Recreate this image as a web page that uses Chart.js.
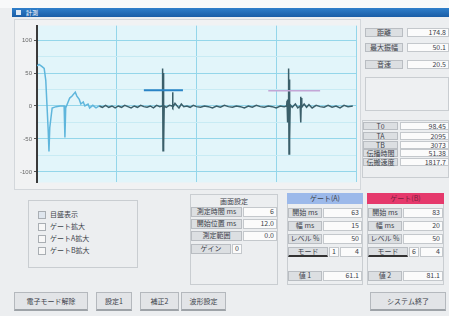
<!DOCTYPE html>
<html>
<head>
<meta charset="utf-8">
<script src="https://cdn.jsdelivr.net/npm/chart.js"></script>
<style>
body{margin:0;width:449px;height:316px;background:#eceef0;position:relative;overflow:hidden;font-family:"Noto Sans CJK JP",sans-serif;font-size:7px;color:#3c424a;}
.a{position:absolute;box-sizing:border-box;white-space:nowrap;}
.lbl{background:#dcdfe2;border:1px solid #b9bdc2;text-align:center;line-height:7px;}
.val{background:#fbfbfb;border:1px solid #c4c8cc;text-align:right;padding-right:2px;line-height:7px;}
.grp{border:1px solid #c9cdd1;}
.btn{background:#e2e4e7;border:1px solid #b4b8bd;border-bottom:2px solid #9ea3a8;text-align:center;line-height:16px;}
.cb{width:6px;height:6px;border:1px solid #a9aeb3;background:#f7f7f7;display:inline-block;vertical-align:middle;margin-right:4px;}
</style>
</head>
<body>
<div class="a" style="left:0;top:0;width:449px;height:8px;background:#f8f9fa"></div>
<div class="a" style="left:12px;top:8px;width:437px;height:9px;background:linear-gradient(#2f7fcb,#1a5da6);"></div>
<div class="a" style="left:16px;top:10px;width:5px;height:5px;background:#dfe9f5"></div>
<div class="a" style="left:26px;top:8px;color:#fff;font-size:6px;line-height:9px">計測</div>

<div class="a" style="left:14px;top:19px;width:347px;height:171px;background:#f1f2f3;border:1px solid #d3d7db"></div>
<canvas id="wave" class="a" width="344" height="168" style="left:14px;top:20px;width:344px;height:168px"></canvas>

<!-- right info panel -->
<div class="a lbl" style="left:365px;top:28px;width:38px;height:9px">距離</div>
<div class="a val" style="left:407px;top:28px;width:42px;height:9px">174.8</div>
<div class="a lbl" style="left:365px;top:43px;width:38px;height:9px">最大振幅</div>
<div class="a val" style="left:407px;top:43px;width:42px;height:9px">50.1</div>
<div class="a lbl" style="left:365px;top:60px;width:38px;height:9px">音速</div>
<div class="a val" style="left:407px;top:60px;width:42px;height:9px">20.5</div>
<div class="a grp" style="left:365px;top:77px;width:84px;height:34px;background:#eef0f2"></div>
<div class="a grp" style="left:362px;top:120px;width:87px;height:58px"></div>
<div class="a lbl" style="left:363px;top:122px;width:35px;height:8px">T0</div>
<div class="a val" style="left:400px;top:122px;width:49px;height:8px">98.45</div>
<div class="a lbl" style="left:363px;top:132px;width:35px;height:8px">TA</div>
<div class="a val" style="left:400px;top:132px;width:49px;height:8px">2095</div>
<div class="a lbl" style="left:363px;top:141px;width:35px;height:8px">TB</div>
<div class="a val" style="left:400px;top:141px;width:49px;height:8px">3073</div>
<div class="a lbl" style="left:363px;top:149px;width:35px;height:8px">伝播時間</div>
<div class="a val" style="left:400px;top:149px;width:49px;height:8px">51.38</div>
<div class="a lbl" style="left:363px;top:158px;width:35px;height:8px">伝搬速度</div>
<div class="a val" style="left:400px;top:158px;width:49px;height:8px">1817.7</div>

<!-- check box group -->
<div class="a grp" style="left:28px;top:200px;width:110px;height:68px"></div>
<div class="a" style="left:38px;top:209px"><span class="cb" style="background:#dfe6ee"></span>目盛表示</div>
<div class="a" style="left:38px;top:221px"><span class="cb"></span>ゲート拡大</div>
<div class="a" style="left:38px;top:233px"><span class="cb"></span>ゲートA拡大</div>
<div class="a" style="left:38px;top:245px"><span class="cb"></span>ゲートB拡大</div>

<!-- screen settings -->
<div class="a grp" style="left:190px;top:194px;width:88px;height:91px"></div>
<div class="a" style="left:190px;top:196px;width:88px;text-align:center">画面設定</div>
<div class="a lbl" style="left:191px;top:207px;width:51px;height:10px">測定時間 ms</div>
<div class="a val" style="left:243px;top:207px;width:34px;height:10px">6</div>
<div class="a lbl" style="left:191px;top:219px;width:51px;height:10px">開始位置 ms</div>
<div class="a val" style="left:243px;top:219px;width:34px;height:10px">12.0</div>
<div class="a lbl" style="left:191px;top:231px;width:51px;height:10px">測定範囲</div>
<div class="a val" style="left:243px;top:231px;width:34px;height:10px">0.0</div>
<div class="a lbl" style="left:191px;top:244px;width:40px;height:10px">ゲイン</div>
<div class="a val" style="left:232px;top:244px;width:10px;height:10px">0</div>

<!-- gate A -->
<div class="a grp" style="left:287px;top:193px;width:76px;height:92px"></div>
<div class="a" style="left:287px;top:193px;width:76px;height:11px;background:#9cb9ea;text-align:center;line-height:11px">ゲート(A)</div>
<div class="a lbl" style="left:288px;top:208px;width:34px;height:10px">開始 ms</div>
<div class="a val" style="left:323px;top:208px;width:39px;height:10px">63</div>
<div class="a lbl" style="left:288px;top:221px;width:34px;height:10px">幅 ms</div>
<div class="a val" style="left:323px;top:221px;width:39px;height:10px">15</div>
<div class="a lbl" style="left:288px;top:234px;width:34px;height:10px">レベル %</div>
<div class="a val" style="left:323px;top:234px;width:39px;height:10px">50</div>
<div class="a lbl" style="left:288px;top:247px;width:40px;height:10px;border-bottom:2px solid #333">モード</div>
<div class="a val" style="left:329px;top:247px;width:10px;height:10px">1</div>
<div class="a val" style="left:340px;top:247px;width:22px;height:10px">4</div>
<div class="a lbl" style="left:288px;top:271px;width:34px;height:10px">値 1</div>
<div class="a val" style="left:323px;top:271px;width:39px;height:10px">61.1</div>

<!-- gate B -->
<div class="a grp" style="left:367px;top:193px;width:77px;height:92px"></div>
<div class="a" style="left:367px;top:193px;width:77px;height:11px;background:#e5396c;text-align:center;line-height:11px;color:#7a2040">ゲート(B)</div>
<div class="a lbl" style="left:368px;top:208px;width:34px;height:10px">開始 ms</div>
<div class="a val" style="left:403px;top:208px;width:40px;height:10px">83</div>
<div class="a lbl" style="left:368px;top:221px;width:34px;height:10px">幅 ms</div>
<div class="a val" style="left:403px;top:221px;width:40px;height:10px">20</div>
<div class="a lbl" style="left:368px;top:234px;width:34px;height:10px">レベル %</div>
<div class="a val" style="left:403px;top:234px;width:40px;height:10px">50</div>
<div class="a lbl" style="left:368px;top:247px;width:40px;height:10px;border-bottom:2px solid #333">モード</div>
<div class="a val" style="left:409px;top:247px;width:10px;height:10px">6</div>
<div class="a val" style="left:420px;top:247px;width:23px;height:10px">4</div>
<div class="a lbl" style="left:368px;top:271px;width:34px;height:10px">値 2</div>
<div class="a val" style="left:403px;top:271px;width:40px;height:10px">81.1</div>

<!-- buttons -->
<div class="a btn" style="left:14px;top:292px;width:74px;height:19px">電子モード解除</div>
<div class="a btn" style="left:96px;top:292px;width:36px;height:19px">設定1</div>
<div class="a btn" style="left:140px;top:292px;width:39px;height:19px">補正2</div>
<div class="a btn" style="left:181px;top:292px;width:45px;height:19px">波形設定</div>
<div class="a btn" style="left:370px;top:292px;width:76px;height:19px">システム終了</div>

<script>
// y axis grid positions (labels only on the 50 steps)
var yTicks = [-100, -75, -50, -25, 0, 25, 50, 75, 100];

// start of trace (light blue part)
var echoX = [0, 2.5, 6, 9, 11, 14, 15, 16, 19, 24, 29, 34, 35, 36, 39, 41, 44, 48, 50, 53, 55, 58, 60, 64, 66, 70, 74, 78];
var echoY = [61, 63, 60, 57, 39, -36, -69, -33, -3, -1, 0, 0, -48, -3, 6, 12, 15, 21, 15, 10, 3, 6, 0, 3, -3, 1, -3, 0];

// rest of the trace with both echoes
var traceX = [78, 82, 86, 90, 94, 98, 102, 106, 110, 114, 118, 122, 126, 130, 134, 138, 142, 146, 150, 154, 157,
    157.5, 158, 158.5, 159, 159.5, 162, 166, 169.5, 170, 170.5, 173, 175, 178, 181, 184, 188, 192, 196, 200,
    205, 210, 215, 220, 225, 230, 235, 240, 245, 250, 255, 260, 265, 270, 275, 280, 285, 290, 295, 300, 305, 310,
    313, 313.5, 314, 314.5, 315, 315.5, 316, 316.5, 317, 317.5, 320, 324, 327, 330, 330.5, 331, 331.5, 332,
    335, 338, 341, 345, 350, 355, 360, 365, 370, 375, 380, 385, 390, 396];
var traceY = [0, -2, 1, -2, 0, -3, 0, -2, 1, -1, -3, 0, -2, 1, -1, -2, 0, -3, 1, -1, 0,
    57, -68, 50, -60, 0, -2, 1, 0, 21, -2, 4, 1, -3, 3, -1, 0, -2, 1, -1,
    -2, 0, -1, -3, 0, -2, 1, -1, -2, 0, -1, -3, 0, -2, 1, -1, -2, 0, -1, -3, 0, -1,
    0, 8, -25, 10, -20, 57, -73, 40, -50, 2, -2, 3, -3, 0, 14, -25, 12, -2,
    3, -2, 2, -3, 1, -1, -2, 1, -2, 0, -3, 1, -1, 0];

// gate lines
var gateAX = [134, 183];
var gateAY = [24, 24];
var gateBX = [290, 355];
var gateBY = [23, 23];

function pts(xs, ys) {
    var out = [];
    for (var i in xs) {
        out.push({x: xs[i], y: ys[i]});
    }
    return out;
}

var plotBg = {
    id: 'plotBg',
    beforeDraw: function(chart) {
        var c = chart.ctx, a = chart.chartArea;
        c.save();
        c.fillStyle = '#e2f5fa';
        c.fillRect(a.left, a.top, a.right - a.left, a.bottom - a.top);
        c.restore();
    }
};

var ctx = document.getElementById('wave');
var waveChart = new Chart(ctx, {
    type: 'line',
    data: {
        datasets: [
            {data: pts(gateAX, gateAY), borderColor: '#2a84c6', borderWidth: 2},
            {data: pts(gateBX, gateBY), borderColor: '#c3a6d6', borderWidth: 1.5},
            {data: pts(echoX, echoY), borderColor: '#5fb6dc', borderWidth: 1.5},
            {data: pts(traceX, traceY), borderColor: '#3b5f6a', borderWidth: 1.5}
        ]
    },
    options: {
        responsive: false,
        animation: false,
        layout: {padding: {top: 4, right: 2, bottom: 4, left: 0}},
        plugins: {legend: {display: false}, tooltip: {enabled: false}},
        elements: {point: {radius: 0}, line: {tension: 0}},
        scales: {
            x: {
                type: 'linear', min: 0, max: 400,
                ticks: {display: false, stepSize: 100},
                grid: {color: '#94d6ea', drawTicks: false},
                border: {display: false},
                afterFit: function(s) { s.height = 0; }
            },
            y: {
                min: -116, max: 122,
                afterBuildTicks: function(s) { s.ticks = yTicks.map(function(v) { return {value: v}; }); },
                afterFit: function(s) { s.width = 23; },
                ticks: {
                    font: {size: 6}, color: '#666', padding: 2, autoSkip: false,
                    callback: function(v) { return v % 50 === 0 ? v : ''; }
                },
                grid: {
                    color: function(c) { return c.tick && c.tick.value % 50 === 0 ? '#94d6ea' : '#c8ebf4'; },
                    tickLength: 3,
                    tickColor: function(c) { return c.tick && c.tick.value % 50 === 0 ? '#555' : 'rgba(0,0,0,0)'; }
                },
                border: {color: '#3a3a3a', width: 2}
            }
        }
    },
    plugins: [plotBg]
});
</script>
</body>
</html>
